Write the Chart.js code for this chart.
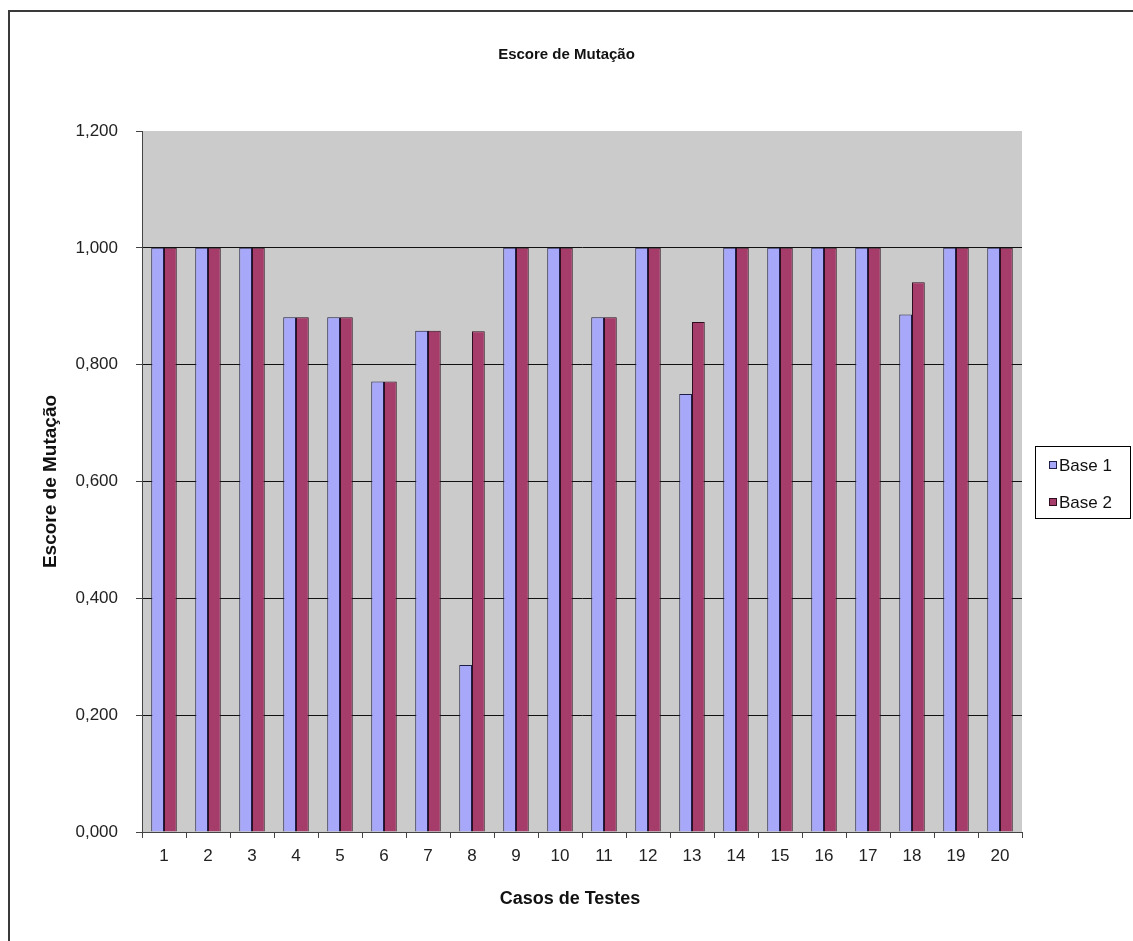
<!DOCTYPE html>
<html>
<head>
<meta charset="utf-8">
<script src="https://cdn.jsdelivr.net/npm/chart.js@4/dist/chart.umd.min.js"></script>
<style>
  html, body { margin: 0; padding: 0; background: #fff; }
  #wrap { width: 1133px; height: 941px; }
</style>
</head>
<body>
<div id="wrap"><canvas id="c" width="1133" height="941"></canvas></div>
<script>
// Test cases on the x axis
const categories = ['1','2','3','4','5','6','7','8','9','10','11','12','13','14','15','16','17','18','19','20'];
// Mutation score per test case
const base1 = [1.000, 1.000, 1.000, 0.881, 0.881, 0.771, 0.858, 0.286, 1.000, 1.000, 0.881, 1.000, 0.750, 1.000, 1.000, 1.000, 1.000, 0.886, 1.000, 1.000];
const base2 = [1.000, 1.000, 1.000, 0.881, 0.881, 0.771, 0.858, 0.857, 1.000, 1.000, 0.881, 1.000, 0.873, 1.000, 1.000, 1.000, 1.000, 0.941, 1.000, 1.000];
const seriesNames = ['Base 1', 'Base 2'];
const chartTitle = 'Escore de Mutação';
const xTitle = 'Casos de Testes';
const yTitle = 'Escore de Mutação';
const yMin = 0, yMax = 1.2, yStep = 0.2;

const FONT = '"Liberation Sans", Arial, Helvetica, sans-serif';
const fill1 = '#A8A8FA', fill2 = '#A63C6A';
const edge1 = '#1E1E46', edge2 = '#2E0E1E';

const decor = {
  id: 'decor',
  beforeDraw(chart) {
    const { ctx, chartArea: a } = chart;
    ctx.save();
    ctx.fillStyle = '#fff';
    ctx.fillRect(0, 0, chart.width, chart.height);
    // outer frame
    ctx.strokeStyle = '#3a3a3a';
    ctx.lineWidth = 2;
    ctx.strokeRect(9, 11, 1300, 1100);
    // plot area
    ctx.fillStyle = '#CBCBCB';
    ctx.fillRect(a.left, a.top, a.right - a.left, a.bottom - a.top);
    ctx.restore();
  },
  afterDraw(chart) {
    const { ctx } = chart;
    ctx.save();
    ctx.fillStyle = '#111';
    ctx.textAlign = 'center';
    ctx.textBaseline = 'middle';
    // main title
    ctx.font = 'bold 15px ' + FONT;
    ctx.fillText(chartTitle, 566.5, 55);
    // x axis title
    ctx.font = 'bold 18px ' + FONT;
    ctx.fillText(xTitle, 570, 899);

    // legend
    ctx.strokeStyle = '#000';
    ctx.lineWidth = 1;
    ctx.strokeRect(1035.5, 446.5, 95, 72);
    const rows = [465, 502];
    const fills = [fill1, fill2];
    const edges = [edge1, edge2];
    ctx.font = '17px ' + FONT;
    ctx.textAlign = 'left';
    seriesNames.forEach((name, i) => {
      ctx.fillStyle = fills[i];
      ctx.fillRect(1049, rows[i] - 4, 8, 8);
      ctx.strokeStyle = edges[i];
      ctx.strokeRect(1049.5, rows[i] - 3.5, 7, 7);
      ctx.fillStyle = '#111';
      ctx.fillText(name, 1059, rows[i] + 1);
    });
    ctx.restore();
  }
};

new Chart(document.getElementById('c'), {
  type: 'bar',
  data: {
    labels: categories,
    datasets: [
      { label: seriesNames[0], data: base1, backgroundColor: fill1, borderColor: edge1, borderWidth: 1 },
      { label: seriesNames[1], data: base2, backgroundColor: fill2, borderColor: edge2, borderWidth: 1 }
    ]
  },
  options: {
    responsive: false,
    animation: false,
    devicePixelRatio: 1,
    datasets: { bar: { barPercentage: 1.0, categoryPercentage: 0.58 } },
    layout: { padding: { top: 131, right: 111, left: 0, bottom: 0 } },
    plugins: { legend: { display: false }, tooltip: { enabled: false }, title: { display: false } },
    scales: {
      x: {
        afterFit(scale) { scale.height = 109; },
        grid: { offset: true, drawOnChartArea: false, tickLength: 6, tickColor: '#444' },
        border: { color: '#444', width: 1 },
        ticks: { color: '#222', font: { family: FONT, size: 17 }, padding: 8, maxRotation: 0 },
        title: { display: false }
      },
      y: {
        min: yMin, max: yMax,
        afterFit(scale) { scale.width = 142; },
        grid: {
          color: (c) => (c.tick && Math.abs(c.tick.value - yMax) < 1e-9) ? 'rgba(0,0,0,0)' : '#111',
          tickLength: 6, tickColor: '#444', lineWidth: 1
        },
        border: { color: '#444', width: 1 },
        ticks: {
          stepSize: yStep, color: '#222', font: { family: FONT, size: 17 }, padding: 18,
          callback: (v) => Number(v).toFixed(3).replace('.', ',')
        },
        title: { display: true, text: yTitle, color: '#111', font: { family: FONT, size: 19, weight: 'bold' }, padding: { top: 39, bottom: 0 } }
      }
    }
  },
  plugins: [decor]
});
</script>
</body>
</html>
